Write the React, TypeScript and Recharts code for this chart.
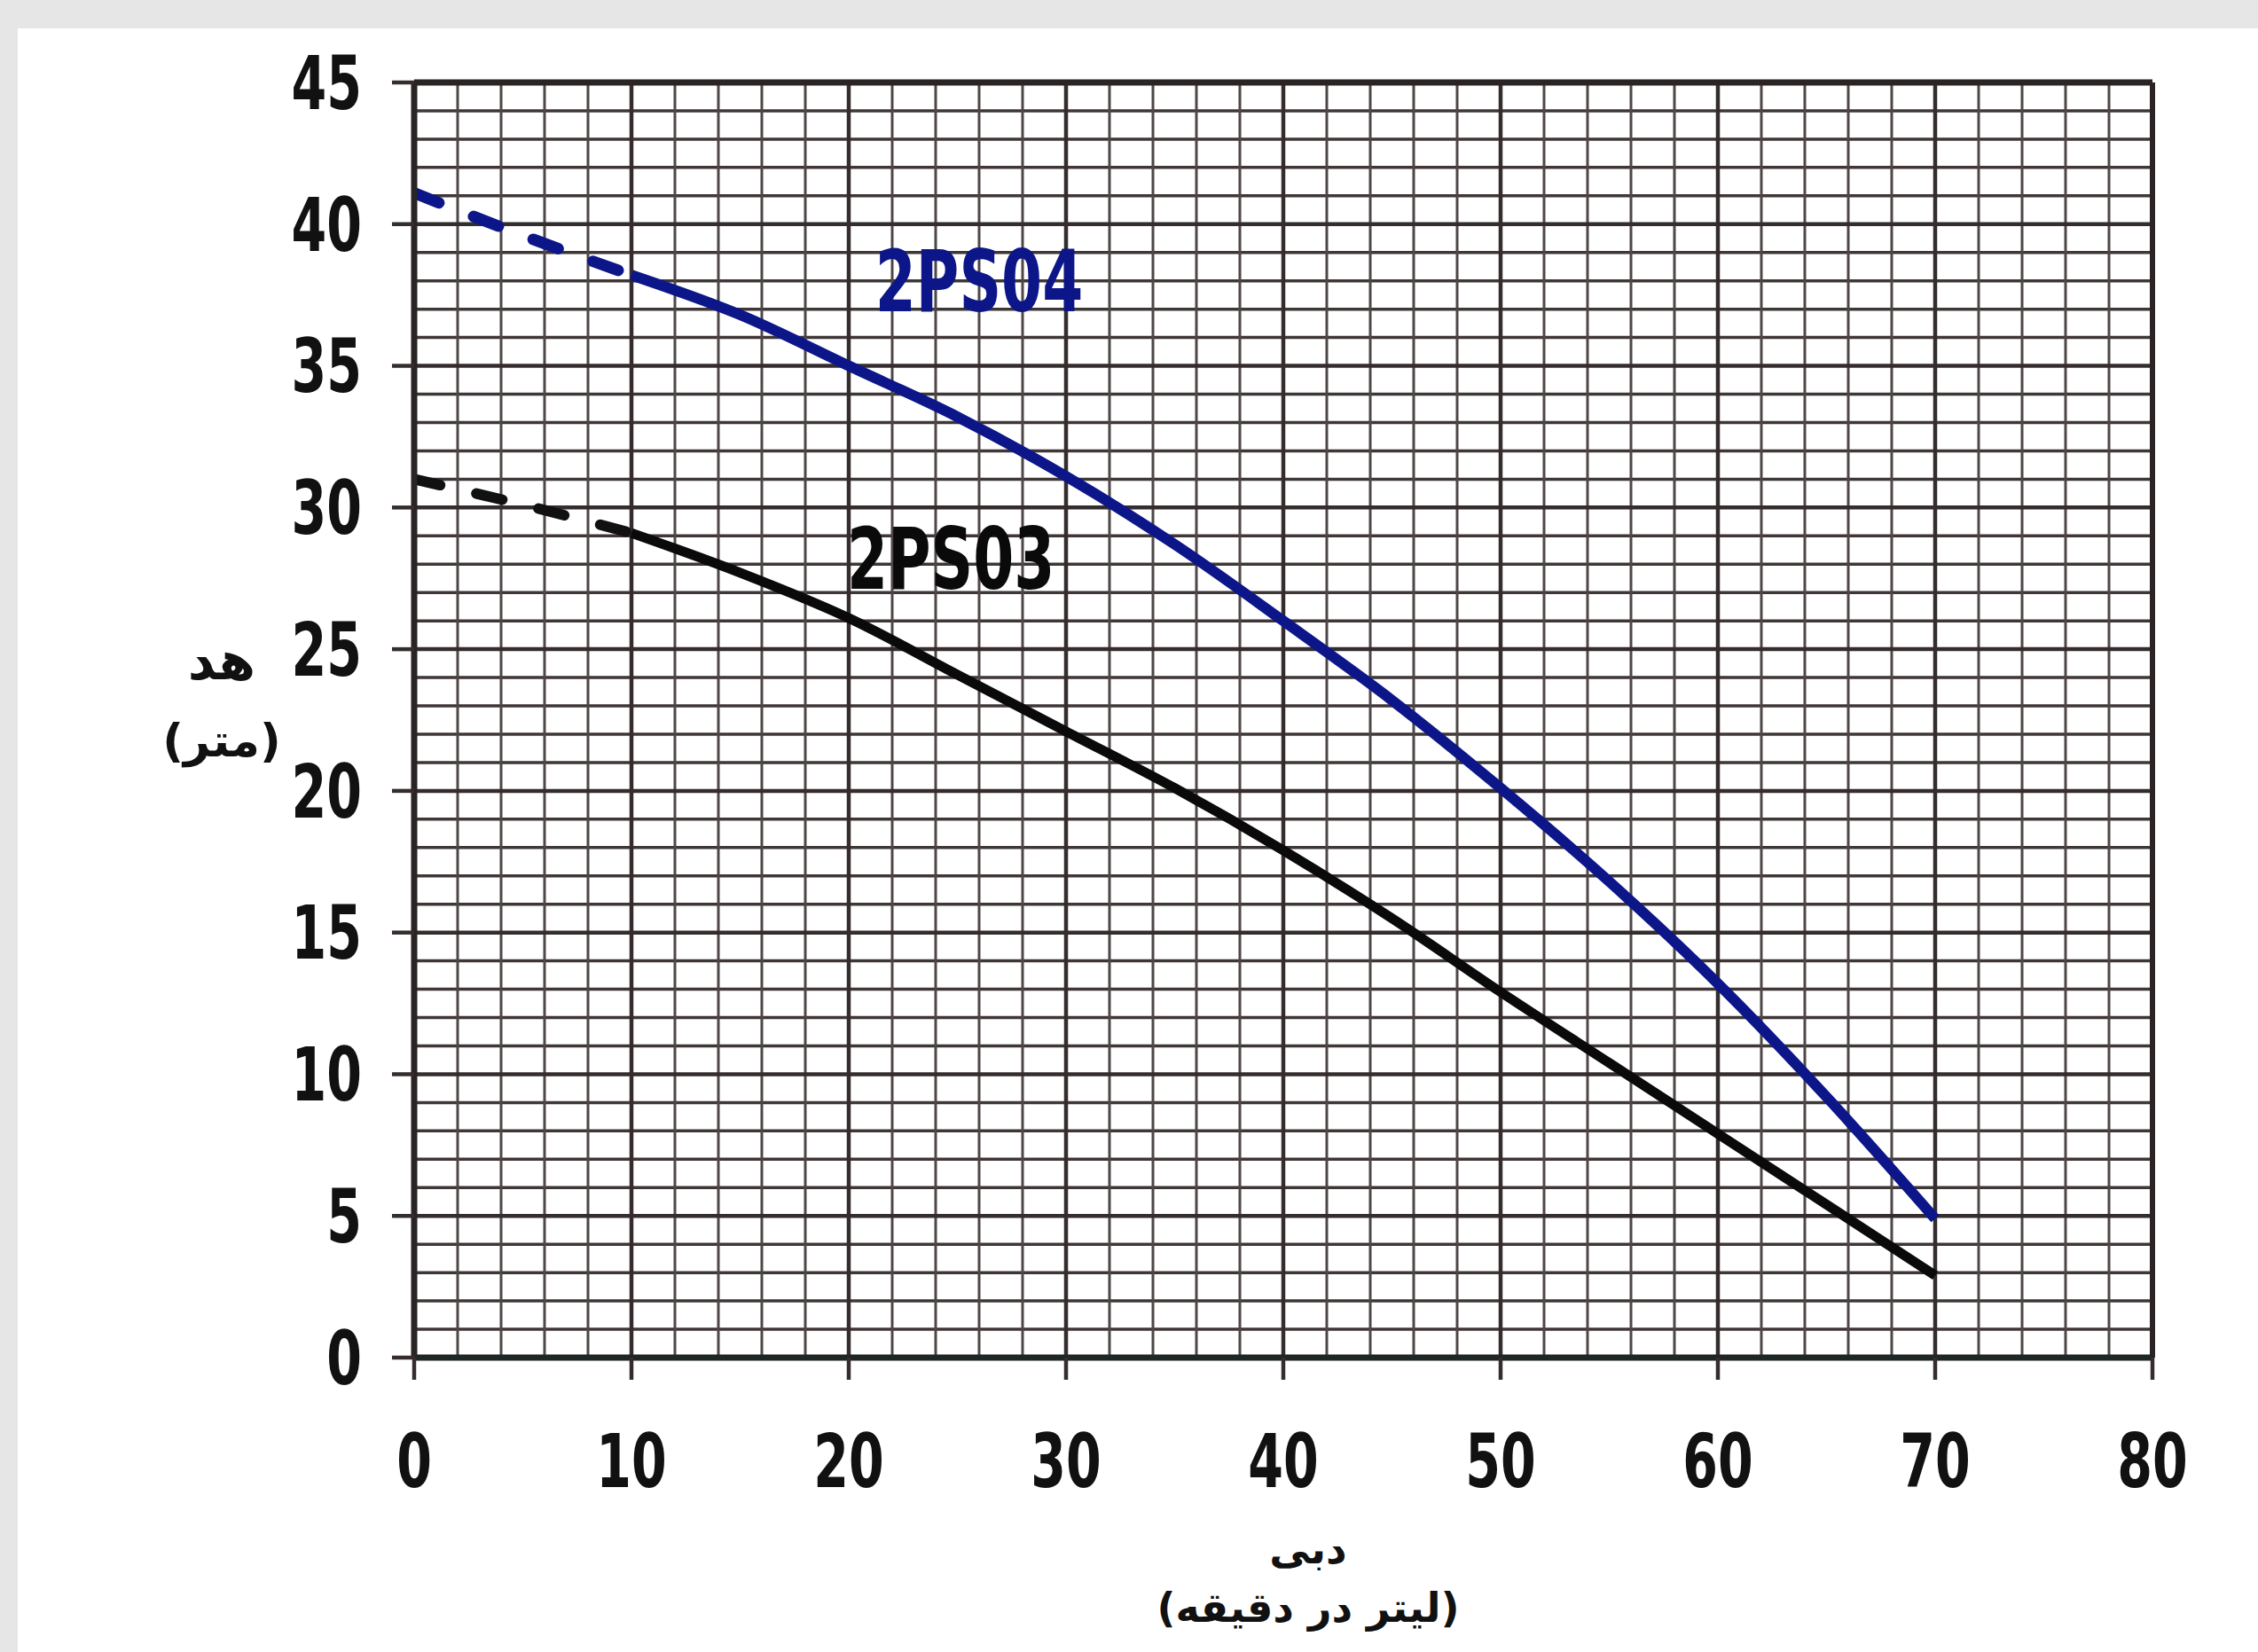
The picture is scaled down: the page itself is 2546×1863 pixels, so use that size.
import React from 'react';
import { LineChart, Line, XAxis, YAxis, CartesianGrid, ReferenceDot, ReferenceLine } from 'recharts';

// pump curves: flow (lit/min) vs head (m)
const flow = [10, 15, 20, 25, 30, 35, 40, 45, 50, 55, 60, 65, 70];
const head2ps04 = [38.2, 36.8, 35.0, 33.2, 31.1, 28.7, 26.0, 23.2, 20.1, 16.8, 13.2, 9.2, 4.9];
const head2ps03 = [29.1, 27.7, 26.1, 24.1, 22.1, 20.1, 17.9, 15.5, 12.9, 10.4, 7.9, 5.4, 2.9];

// dashed extension towards zero flow
const flowExt = [0, 5, 10];
const head2ps04Ext = [41.1, 39.6, 38.2];
const head2ps03Ext = [31.0, 30.1, 29.1];

const xTicks = [0, 10, 20, 30, 40, 50, 60, 70, 80];
const yTicks = [0, 5, 10, 15, 20, 25, 30, 35, 40, 45];
const xMinor = [2, 4, 6, 8, 12, 14, 16, 18, 22, 24, 26, 28, 32, 34, 36, 38, 42, 44, 46, 48, 52, 54, 56, 58, 62, 64, 66, 68, 72, 74, 76, 78];
const yMinor = [1, 2, 3, 4, 6, 7, 8, 9, 11, 12, 13, 14, 16, 17, 18, 19, 21, 22, 23, 24, 26, 27, 28, 29, 31, 32, 33, 34, 36, 37, 38, 39, 41, 42, 43, 44];

const yTitle = ['هد', '(متر)'];
const xTitle = ['دبی', '(لیتر در دقیقه)'];

const rows04 = flow.map((q, i) => ({ q, h: head2ps04[i] }));
const rows03 = flow.map((q, i) => ({ q, h: head2ps03[i] }));
const ext04 = flowExt.map((q, i) => ({ q, h: head2ps04Ext[i] }));
const ext03 = flowExt.map((q, i) => ({ q, h: head2ps03Ext[i] }));

const numFont = "'DejaVu Sans', sans-serif";
const faFont = "'DejaVu Sans', sans-serif";
const blue = '#0c1689';
const gridDark = '#352d2d';

// narrow bold numbers like the scanned chart
const makeTick = (axis: 'x' | 'y') => (props: any) => {
    const { x, y, payload, textAnchor } = props;
    return (
        <text
            transform={`translate(${x},${y}) scale(0.68,1)`}
            textAnchor={textAnchor}
            dy={axis === 'x' ? '0.71em' : '0.355em'}
            fill="#111"
            fontSize={84}
            fontWeight={700}
            fontFamily={numFont}
        >
            {payload.value}
        </text>
    );
};

const seriesLabel = (text: string, color: string) => (props: any) => (
    <text
        transform={`translate(${props.cx},${props.cy}) scale(0.69,1)`}
        textAnchor="middle"
        dy="0.355em"
        fill={color}
        fontSize={96}
        fontWeight={700}
        fontFamily={numFont}
    >
        {text}
    </text>
);

export default function App() {
    return (
        <div style={{ position: 'relative', width: 2546, height: 1863, background: '#e6e6e6', overflow: 'hidden' }}>
            <style>{'body{margin:0}'}</style>
            <div style={{ position: 'absolute', left: 20, top: 32, right: 0, bottom: 0, background: '#fff' }} />
            <div style={{ position: 'absolute', left: 0, top: 0 }}>
                <LineChart width={2546} height={1863} margin={{ top: 93, right: 119, bottom: 212, left: 267 }}>
                    <CartesianGrid vertical={false} horizontalValues={yMinor} stroke="#3f3636" strokeWidth={3.5} />
                    <CartesianGrid horizontal={false} verticalValues={xMinor} stroke="#4f4747" strokeWidth={3} />
                    <CartesianGrid horizontalValues={yTicks} verticalValues={xTicks} stroke={gridDark} strokeWidth={4.5} />
                    <ReferenceLine y={45} stroke="#2a2424" strokeWidth={7} />
                    <ReferenceLine x={80} stroke="#2a2424" strokeWidth={6} />
                    <XAxis
                        dataKey="q"
                        type="number"
                        domain={[0, 80]}
                        ticks={xTicks}
                        interval={0}
                        height={120}
                        tickSize={25}
                        tickMargin={61}
                        axisLine={{ stroke: '#1f2626', strokeWidth: 7 }}
                        tickLine={{ stroke: gridDark, strokeWidth: 4.5 }}
                        tick={makeTick('x')}
                        allowDataOverflow
                    />
                    <YAxis
                        type="number"
                        domain={[0, 45]}
                        ticks={yTicks}
                        interval={0}
                        width={200}
                        tickSize={25}
                        tickMargin={34}
                        axisLine={{ stroke: '#2a2424', strokeWidth: 7 }}
                        tickLine={{ stroke: gridDark, strokeWidth: 4.5 }}
                        tick={makeTick('y')}
                        allowDataOverflow
                    />
                    <Line data={ext04} dataKey="h" type="monotone" stroke={blue} strokeWidth={13}
                        strokeDasharray="30 42" strokeLinecap="round" dot={false} isAnimationActive={false} />
                    <Line data={ext03} dataKey="h" type="monotone" stroke="#111" strokeWidth={12}
                        strokeDasharray="30 42" strokeLinecap="round" dot={false} isAnimationActive={false} />
                    <Line data={rows04} dataKey="h" type="monotone" stroke={blue} strokeWidth={12}
                        dot={false} isAnimationActive={false} />
                    <Line data={rows03} dataKey="h" type="monotone" stroke="#0a0a0a" strokeWidth={11}
                        dot={false} isAnimationActive={false} />
                    <ReferenceDot x={26} y={38} r={1} ifOverflow="visible" shape={seriesLabel('2PS04', blue)} />
                    <ReferenceDot x={24.7} y={28.2} r={1} ifOverflow="visible" shape={seriesLabel('2PS03', '#0a0a0a')} />
                </LineChart>
            </div>
            <div style={{ position: 'absolute', left: 150, top: 700, width: 200, textAlign: 'center', direction: 'rtl', fontFamily: faFont, fontWeight: 700, lineHeight: '90px', color: '#111' }}>
                <div style={{ fontSize: 60 }}>{yTitle[0]}</div>
                <div style={{ fontSize: 52 }}>{yTitle[1]}</div>
            </div>
            <div style={{ position: 'absolute', left: 1275, top: 1714, width: 400, textAlign: 'center', direction: 'rtl', fontFamily: faFont, fontWeight: 700, fontSize: 46, lineHeight: '66px', color: '#111' }}>
                {xTitle.map((t) => <div key={t}>{t}</div>)}
            </div>
        </div>
    );
}
